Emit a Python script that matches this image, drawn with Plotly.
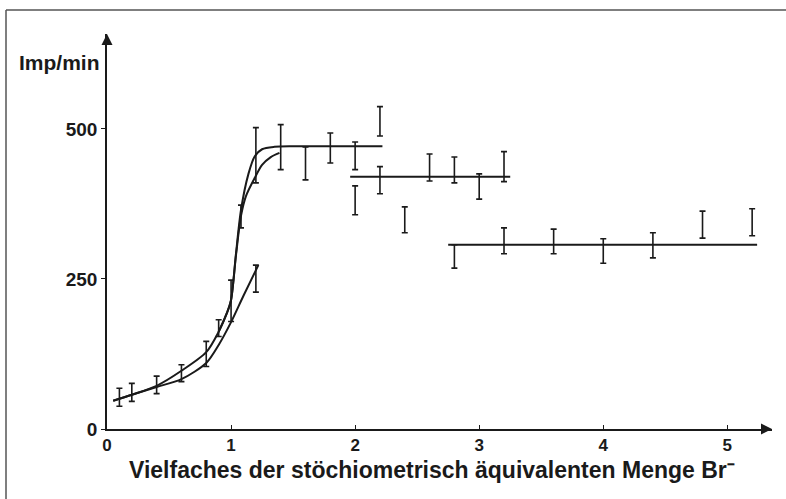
import plotly.graph_objects as go

# ---- data ----
# fitted curves
curveA_x = [0.05, 0.2, 0.4, 0.6, 0.8, 0.9, 1.0, 1.1, 1.22]
curveA_y = [47, 57, 70, 83, 110, 140, 178, 222, 273]

curveB_x = [0.05, 0.2, 0.4, 0.6, 0.8, 0.9, 0.97, 1.0, 1.04, 1.08, 1.14, 1.19, 1.25, 1.35, 1.5, 2.22]
curveB_y = [47, 57, 72, 97, 128, 162, 195, 215, 293, 365, 425, 454, 466, 470, 471, 471]

curveC_x = [0.9, 0.97, 1.0, 1.04, 1.08, 1.12, 1.19, 1.25, 1.32, 1.39]
curveC_y = [162, 195, 215, 290, 355, 388, 418, 440, 453, 460]

# horizontal level lines
levelD_x = [1.96, 3.25]
levelD_y = [420, 420]
levelE_x = [2.75, 5.24]
levelE_y = [307, 307]

# error bars: x, lower end, upper end
bar_x = [0.1, 0.2, 0.4, 0.6, 0.8, 0.9, 1.0, 1.08, 1.2, 1.2,
         1.4, 1.6, 1.8, 2.0, 2.2,
         2.0, 2.2, 2.4, 2.6, 2.8, 3.0, 3.2,
         2.8, 3.2, 3.6, 4.0, 4.4, 4.8, 5.2]
bar_lo = [38, 46, 59, 79, 104, 154, 179, 335, 228, 410,
          432, 415, 443, 432, 488,
          357, 392, 327, 413, 410, 383, 412,
          268, 292, 292, 276, 285, 318, 322]
bar_hi = [68, 76, 88, 107, 146, 182, 248, 373, 273, 502,
          507, 470, 493, 478, 537,
          405, 437, 370, 458, 453, 425, 462,
          307, 335, 333, 317, 327, 363, 367]

x_ticks = [0, 1, 2, 3, 4, 5]
y_ticks = [0, 250, 500]

X_MAX = 5.36
Y_MAX = 658

ink = "#1a1a1a"
W, H = 786, 499
ML, MR, MT, MB = 107, 14, 34, 70
PW, PH = W - ML - MR, H - MT - MB


def px_to_paper_x(px):
    return (px - ML) / PW


def px_to_paper_y(py):
    return (H - MB - py) / PH


fig = go.Figure()

for cx, cy in [(curveA_x, curveA_y), (curveB_x, curveB_y), (curveC_x, curveC_y)]:
    fig.add_trace(go.Scatter(x=cx, y=cy, mode="lines",
                             line=dict(color=ink, width=2, shape="spline", smoothing=0.8),
                             hoverinfo="skip", showlegend=False))

for lx, ly in [(levelD_x, levelD_y), (levelE_x, levelE_y)]:
    fig.add_trace(go.Scatter(x=lx, y=ly, mode="lines",
                             line=dict(color=ink, width=2),
                             hoverinfo="skip", showlegend=False))

centers = [(lo + hi) / 2 for lo, hi in zip(bar_lo, bar_hi)]
halves = [(hi - lo) / 2 for lo, hi in zip(bar_lo, bar_hi)]
fig.add_trace(go.Scatter(x=bar_x, y=centers, mode="markers",
                         marker=dict(size=0.1, color=ink, opacity=0),
                         error_y=dict(type="data", array=halves, visible=True,
                                      color=ink, thickness=1.6, width=3),
                         hoverinfo="skip", showlegend=False, cliponaxis=False))

# arrowheads at the axis ends
fig.add_trace(go.Scatter(x=[0], y=[Y_MAX], mode="markers",
                         marker=dict(symbol="arrow-up", size=11, color=ink),
                         hoverinfo="skip", showlegend=False, cliponaxis=False))
fig.add_trace(go.Scatter(x=[X_MAX], y=[0], mode="markers",
                         marker=dict(symbol="arrow-right", size=11, color=ink),
                         hoverinfo="skip", showlegend=False, cliponaxis=False))

font_main = dict(family="Liberation Sans, Arial, sans-serif", color=ink)

fig.update_layout(
    width=W, height=H,
    margin=dict(l=ML, r=MR, t=MT, b=MB),
    paper_bgcolor="white", plot_bgcolor="white",
    showlegend=False,
    xaxis=dict(range=[0, X_MAX], tickvals=x_ticks, ticktext=[f"<b>{v}</b>" for v in x_ticks],
               showgrid=False, zeroline=False, showline=True, linecolor=ink, linewidth=1.5,
               ticks="inside", ticklen=4, tickcolor=ink, tickwidth=1.2,
               tickfont=dict(size=17, **font_main)),
    yaxis=dict(range=[0, Y_MAX], tickvals=y_ticks, ticktext=[f"<b>{v}</b>" for v in y_ticks],
               showgrid=False, zeroline=False, showline=True, linecolor=ink, linewidth=1.5,
               ticks="outside", ticklen=4, tickcolor=ink, tickwidth=1.2,
               tickfont=dict(size=19, **font_main)),
)

# x-axis title
fig.add_annotation(x=px_to_paper_x(432), y=px_to_paper_y(470), xref="paper", yref="paper",
                   text="<b>Vielfaches der stöchiometrisch äquivalenten Menge Br⁻</b>",
                   showarrow=False, xanchor="center", yanchor="middle",
                   font=dict(size=23, **font_main))

# y-axis label at top-left
fig.add_annotation(x=px_to_paper_x(102), y=px_to_paper_y(62), xref="paper", yref="paper",
                   text="<b>Imp/min</b>", showarrow=False, xanchor="right", yanchor="middle",
                   font=dict(size=21, **font_main))

# frame around the figure (left and top edges)
fig.add_shape(type="line", xref="paper", yref="paper",
              x0=px_to_paper_x(6), x1=px_to_paper_x(6), y0=px_to_paper_y(H), y1=px_to_paper_y(10),
              line=dict(color="#555555", width=1.5))
fig.add_shape(type="line", xref="paper", yref="paper",
              x0=px_to_paper_x(6), x1=px_to_paper_x(W), y0=px_to_paper_y(10), y1=px_to_paper_y(10),
              line=dict(color="#555555", width=1.5))

fig.write_html("out.html", post_script="document.body.style.margin='0';",
               config={"displayModeBar": False})
